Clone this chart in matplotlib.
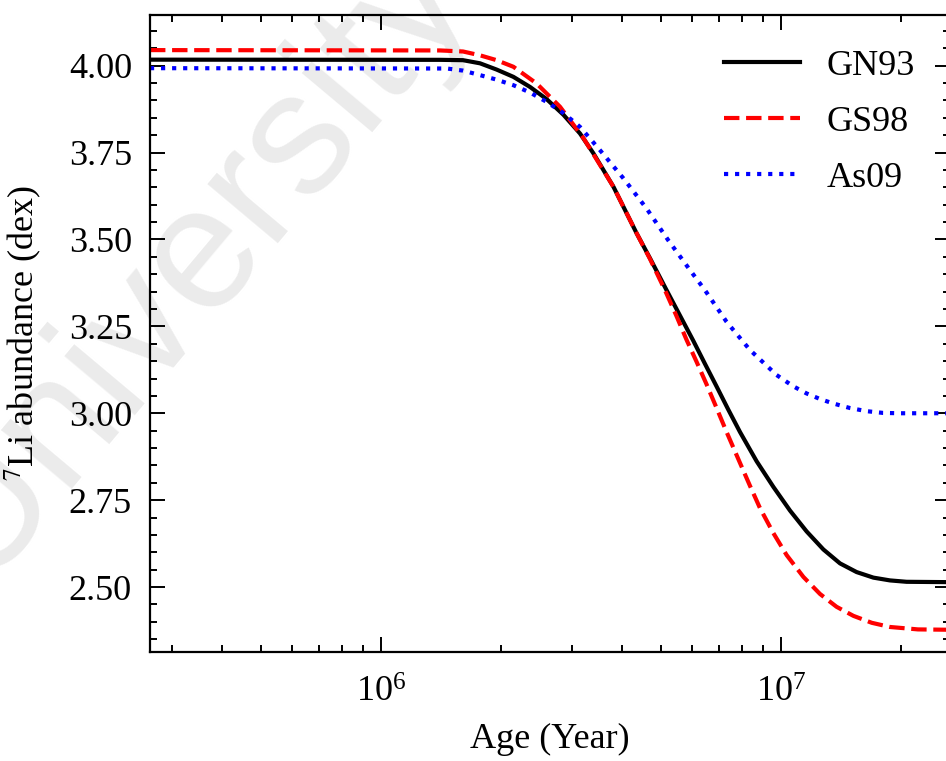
import numpy as np
import matplotlib
matplotlib.use("Agg")
import matplotlib.pyplot as plt
from matplotlib.ticker import MultipleLocator, LogLocator, NullFormatter, FormatStrFormatter

plt.rcParams["font.family"] = ["Liberation Serif", "DejaVu Serif"]
plt.rcParams["mathtext.fontset"] = "stix"

# Lithium depletion tracks for three solar mixtures (log10 of age in years)
logage_gn93 = [5.4225, 6.1475, 6.205, 6.2475, 6.289, 6.331, 6.3725, 6.414, 6.456,
               6.4975, 6.531, 6.581, 6.639, 6.6725, 6.714, 6.7475, 6.781, 6.81,
               6.839, 6.868, 6.8975, 6.939, 6.981, 7.0225, 7.064, 7.106, 7.1475,
               7.189, 7.231, 7.2725, 7.314, 7.4225]
li_gn93 = [4.0175, 4.017, 4.016, 4.007, 3.989, 3.968, 3.939, 3.904, 3.859,
           3.805, 3.748, 3.652, 3.518, 3.446, 3.354, 3.281, 3.208, 3.142,
           3.077, 3.011, 2.946, 2.862, 2.788, 2.720, 2.660, 2.608, 2.568,
           2.543, 2.527, 2.519, 2.515, 2.514]

logage_gs98 = [5.4225, 6.1475, 6.205, 6.2475, 6.289, 6.331, 6.389, 6.4475, 6.506,
               6.581, 6.639, 6.6725, 6.71, 6.7375, 6.764, 6.789, 6.814, 6.839,
               6.864, 6.8975, 6.9225, 6.9475, 6.981, 7.014, 7.056, 7.0975, 7.139,
               7.181, 7.227, 7.2725, 7.3425, 7.4225]
li_gs98 = [4.045, 4.044, 4.041, 4.030, 4.016, 3.997, 3.949, 3.882, 3.792,
           3.652, 3.518, 3.444, 3.354, 3.283, 3.211, 3.148, 3.083, 3.015,
           2.946, 2.857, 2.791, 2.727, 2.655, 2.592, 2.529, 2.480, 2.443,
           2.417, 2.397, 2.385, 2.378, 2.377]

logage_as09 = [5.4225, 6.165, 6.205, 6.2475, 6.289, 6.331, 6.3725, 6.414, 6.456,
               6.4975, 6.5475, 6.606, 6.664, 6.718, 6.7725, 6.81, 6.864, 6.9225,
               6.989, 7.03, 7.064, 7.0975, 7.131, 7.1725, 7.214, 7.255, 7.2975,
               7.4225]
li_as09 = [3.993, 3.992, 3.986, 3.973, 3.960, 3.944, 3.923, 3.896, 3.864,
           3.824, 3.757, 3.676, 3.589, 3.498, 3.412, 3.354, 3.263, 3.182,
           3.110, 3.078, 3.057, 3.041, 3.028, 3.015, 3.006, 3.001, 3.000,
           3.000]

labels = ["GN93", "GS98", "As09"]

fig = plt.figure(figsize=(9.46, 7.61), dpi=100)

# faint background watermark
fig.text(0.202, 0.658, "University", fontsize=126, color="#ebebeb",
         family="Liberation Sans", rotation=50, ha="center", va="center",
         zorder=-1)

ax = fig.add_axes([150 / 946, 109 / 761, 800 / 946, 637 / 761])
ax.set_facecolor("none")

ax.plot(10 ** np.array(logage_gn93), li_gn93, color="black", lw=3.0, ls="-",
        label=labels[0])
ax.plot(10 ** np.array(logage_gs98), li_gs98, color="#ff0000", lw=3.0, ls="--",
        label=labels[1])
ax.plot(10 ** np.array(logage_as09), li_as09, color="#0000ff", lw=3.0, ls=":",
        label=labels[2])

ax.set_xscale("log")
ax.set_xlim(10 ** 5.4225, 10 ** 7.4225)
ax.set_ylim(2.313, 4.146)

ax.yaxis.set_major_locator(MultipleLocator(0.25))
ax.yaxis.set_minor_locator(MultipleLocator(0.05))
ax.yaxis.set_major_formatter(FormatStrFormatter("%.2f"))
ax.xaxis.set_major_locator(LogLocator(base=10, numticks=10))
ax.xaxis.set_minor_locator(LogLocator(base=10, subs=np.arange(2, 10), numticks=20))
ax.xaxis.set_minor_formatter(NullFormatter())

ax.tick_params(which="both", direction="in", top=True, right=True, width=1.4,
               labelsize=26)
ax.tick_params(which="major", length=11)
ax.tick_params(which="minor", length=5)
ax.tick_params(axis="y", pad=13)
ax.tick_params(axis="x", pad=18)
for s in ax.spines.values():
    s.set_linewidth(1.6)

ax.set_xlabel("Age (Year)", fontsize=26)
ax.set_ylabel("$^7$Li abundance (dex)", fontsize=26)
ax.xaxis.set_label_coords(0.5, -0.111)
ax.yaxis.set_label_coords(-0.1325, 0.5)

ax.legend(loc="upper right", frameon=False, fontsize=26, handlelength=2.1,
          handletextpad=0.75, labelspacing=0.63, borderaxespad=0.56)

fig.savefig("out.png", dpi=100)
